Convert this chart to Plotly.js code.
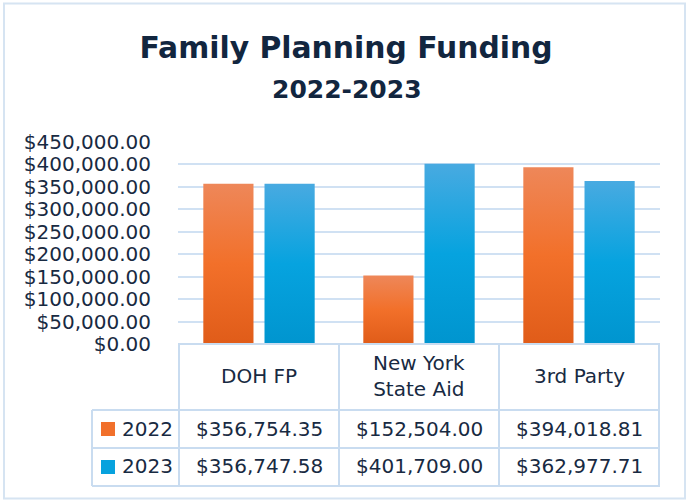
<!DOCTYPE html>
<html><head><meta charset="utf-8">
<script src="https://cdn.plot.ly/plotly-3.0.1.min.js"></script>
<style>html,body{margin:0;padding:0;background:#fff}#chart{width:686px;height:500px}</style>
</head><body><div id="chart"></div>
<script>
const categories = ['DOH FP', 'New York State Aid', '3rd Party'];
const headerLabels = ['DOH FP', 'New York<br>State Aid', '3rd Party'];
const seriesNames = ['2022', '2023'];
const values2022 = [356754.35, 152504.00, 394018.81];
const values2023 = [356747.58, 401709.00, 362977.71];
const yTickValues = [0, 50000, 100000, 150000, 200000, 250000, 300000, 350000, 400000, 450000];

const W = 686, H = 500, L = 178, R = 26, T = 142, B = 156;
const PW = W - L - R, PH = H - T - B;
const px = x => (x - L) / PW;
const py = y => (H - B - y) / PH;

const FONT = 'DejaVu Sans';
const TXT = '#182a42';
const LINE = '#c9dcf0';
const colors = ['#f1702b', '#07a2de'];
const fmt = new Intl.NumberFormat('en-US', {style: 'currency', currency: 'USD', minimumFractionDigits: 2});

const data = [
  {type: 'bar', name: seriesNames[0], x: categories, y: values2022, marker: {color: colors[0], line: {width: 0}}},
  {type: 'bar', name: seriesNames[1], x: categories, y: values2023, marker: {color: colors[1], line: {width: 0}}}
];

const shapes = [];
function hline(y, x0, x1) { shapes.push({type: 'line', xref: 'paper', yref: 'paper', x0: x0, x1: x1, y0: py(y), y1: py(y), line: {color: LINE, width: 2}}); }
function vline(xv, xref, y0, y1) { shapes.push({type: 'line', xref: xref, yref: 'paper', x0: xv, x1: xv, y0: py(y0), y1: py(y1), line: {color: LINE, width: 2}}); }
hline(344, 0, 1);
hline(410, px(92), 1);
hline(448, px(92), 1);
hline(486, px(92), 1);
[-0.5, 0.5, 1.5, 2.5].forEach(v => vline(v, 'x', 344, 486));
vline(px(92), 'paper', 410, 486);
// legend keys
shapes.push({type: 'rect', xref: 'paper', yref: 'paper', x0: px(101), x1: px(115), y0: py(422), y1: py(436), fillcolor: colors[0], line: {width: 0}});
shapes.push({type: 'rect', xref: 'paper', yref: 'paper', x0: px(101), x1: px(115), y0: py(460), y1: py(474), fillcolor: colors[1], line: {width: 0}});
// outer border
shapes.push({type: 'rect', xref: 'paper', yref: 'paper', x0: px(4), x1: px(685), y0: py(3.5), y1: py(498.5), line: {color: '#d6e4f2', width: 2}});

const annotations = [];
annotations.push({text: '2022-2023', xref: 'paper', yref: 'paper', x: px(347), y: py(89), showarrow: false,
  font: {family: FONT, size: 25, color: '#12263f', weight: 700}, xanchor: 'center', yanchor: 'middle'});
categories.forEach((c, i) => {
  annotations.push({text: headerLabels[i], xref: 'x', yref: 'paper', x: c, y: py(376), showarrow: false,
    font: {family: FONT, size: 20, color: TXT}, xanchor: 'center', yanchor: 'middle'});
  annotations.push({text: fmt.format(values2022[i]), xref: 'x', yref: 'paper', x: c, y: py(429), showarrow: false,
    font: {family: FONT, size: 20, color: TXT}, xanchor: 'center', yanchor: 'middle'});
  annotations.push({text: fmt.format(values2023[i]), xref: 'x', yref: 'paper', x: c, y: py(466), showarrow: false,
    font: {family: FONT, size: 20, color: TXT}, xanchor: 'center', yanchor: 'middle'});
});
seriesNames.forEach((s, i) => {
  annotations.push({text: s, xref: 'paper', yref: 'paper', x: px(120), y: py(i === 0 ? 429 : 466), showarrow: false,
    font: {family: FONT, size: 20, color: TXT}, xanchor: 'left', yanchor: 'middle'});
});

const layout = {
  width: W, height: H,
  margin: {l: L, r: R, t: T, b: B, pad: 0},
  paper_bgcolor: '#ffffff', plot_bgcolor: '#ffffff',
  font: {family: FONT, size: 20, color: TXT},
  showlegend: false,
  barmode: 'group', bargap: 0.235, bargroupgap: 0.18,
  title: {text: 'Family Planning Funding', xref: 'container', yref: 'container', x: 346 / W, y: 1 - 48 / H,
    xanchor: 'center', yanchor: 'middle', font: {family: FONT, size: 29.8, color: '#12263f', weight: 700}},
  xaxis: {type: 'category', showticklabels: false, showgrid: false, zeroline: false, showline: false, ticks: '', fixedrange: true},
  yaxis: {range: [0, 450000], tickvals: yTickValues, tickformat: '$,.2f', showgrid: true, gridcolor: '#d0e1f3', gridwidth: 2,
    zeroline: false, showline: false, ticks: '', ticklabelstandoff: 26, tickfont: {family: FONT, size: 20, color: TXT}, fixedrange: true},
  shapes: shapes,
  annotations: annotations
};

Plotly.newPlot('chart', data, layout, {staticPlot: true, displayModeBar: false}).then(gd => {
  const svg = gd.querySelector('.main-svg');
  const ns = 'http://www.w3.org/2000/svg';
  let defs = svg.querySelector('defs');
  if (!defs) { defs = document.createElementNS(ns, 'defs'); svg.insertBefore(defs, svg.firstChild); }
  function addGrad(id, stops) {
    const g = document.createElementNS(ns, 'linearGradient');
    g.setAttribute('id', id); g.setAttribute('x1', '0'); g.setAttribute('y1', '0'); g.setAttribute('x2', '0'); g.setAttribute('y2', '1');
    stops.forEach(([o, c]) => { const s = document.createElementNS(ns, 'stop'); s.setAttribute('offset', o); s.setAttribute('stop-color', c); g.appendChild(s); });
    defs.appendChild(g);
  }
  addGrad('gradOrange', [['0', '#ee8759'], ['0.5', '#f2702a'], ['1', '#e05c19']]);
  addGrad('gradBlue', [['0', '#48aae1'], ['0.5', '#06a3df'], ['1', '#0095cf']]);
  gd.querySelectorAll('.barlayer .trace').forEach((t, i) => {
    t.querySelectorAll('.point path').forEach(p => { p.style.fill = i === 0 ? 'url(#gradOrange)' : 'url(#gradBlue)'; });
  });
});
</script>
</body></html>
